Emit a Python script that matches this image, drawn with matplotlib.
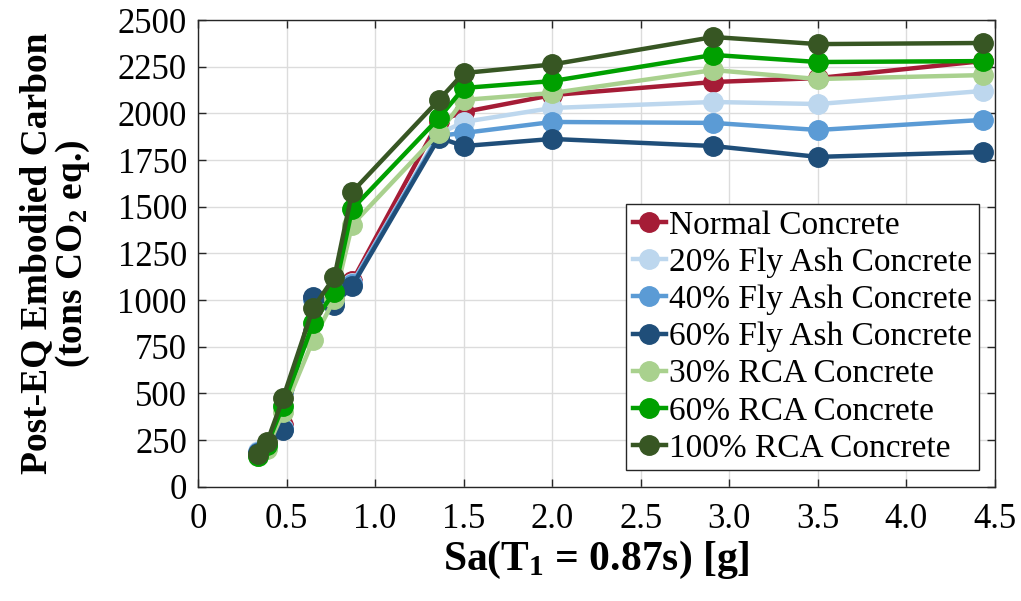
import matplotlib
matplotlib.use("Agg")
import matplotlib.pyplot as plt

plt.rcParams["font.family"] = ["Liberation Serif", "DejaVu Serif"]
plt.rcParams["mathtext.fontset"] = "custom"
plt.rcParams["mathtext.rm"] = "Liberation Serif"
plt.rcParams["mathtext.bf"] = "Liberation Serif:bold"
plt.rcParams["mathtext.it"] = "Liberation Serif:italic"

# Spectral acceleration levels (g)
sa = [0.34, 0.39, 0.48, 0.65, 0.77, 0.87, 1.36, 1.50, 2.0, 2.91, 3.5, 4.43]

# Post-earthquake embodied carbon (tons CO2 eq.) per concrete mix
normal = [180, 230, 330, 1012, 1000, 1100, 1960, 2007, 2098, 2168, 2189, 2280]
fly_ash_20 = [190, 220, 315, 1000, 980, 1090, 1890, 1954, 2029, 2061, 2050, 2120]
fly_ash_40 = [185, 215, 310, 1005, 985, 1085, 1880, 1895, 1954, 1949, 1911, 1965]
fly_ash_60 = [180, 212, 305, 1015, 975, 1075, 1870, 1825, 1863, 1825, 1767, 1793]
rca_30 = [165, 205, 400, 787, 1005, 1403, 1895, 2072, 2109, 2232, 2184, 2205]
rca_60 = [165, 225, 435, 878, 1045, 1488, 1975, 2136, 2173, 2313, 2275, 2280]
rca_100 = [175, 240, 476, 958, 1124, 1579, 2072, 2216, 2262, 2409, 2371, 2377]

labels = ["Normal Concrete", "20% Fly Ash Concrete", "40% Fly Ash Concrete",
          "60% Fly Ash Concrete", "30% RCA Concrete", "60% RCA Concrete",
          "100% RCA Concrete"]
series = [normal, fly_ash_20, fly_ash_40, fly_ash_60, rca_30, rca_60, rca_100]
colors = ["#A51C36", "#BDD7EE", "#5B9BD5", "#1F4E79", "#A9D18E", "#00A000", "#375623"]

xticks = [0, 0.5, 1.0, 1.5, 2.0, 2.5, 3.0, 3.5, 4.0, 4.5]
xticklabels = ["0", "0.5", "1.0", "1.5", "2.0", "2.5", "3.0", "3.5", "4.0", "4.5"]
yticks = [0, 250, 500, 750, 1000, 1250, 1500, 1750, 2000, 2250, 2500]

fig = plt.figure(figsize=(10.21, 6.01), dpi=100)
ax = fig.add_axes([0.194, 0.190, 0.7805, 0.7767])

for vals, lab, col in zip(series, labels, colors):
    ax.plot(sa, vals, "-o", color=col, lw=3.2, ms=14, label=lab)

ax.set_xlim(0, 4.5)
ax.set_ylim(0, 2500)
ax.set_xticks(xticks)
ax.set_xticklabels(xticklabels)
ax.set_yticks(yticks)
ax.grid(True, color="#DCDCDC", lw=1.0)
ax.set_axisbelow(True)
ax.tick_params(direction="in", top=True, right=True, length=6, width=1,
               labelsize=25, colors="#262626", labelcolor="black")
ax.tick_params(axis="x", pad=12)
ax.tick_params(axis="y", pad=8)
for s in ax.spines.values():
    s.set_color("#262626")
    s.set_linewidth(1.0)

ax.set_xlabel(r"Sa(T$_{\mathbf{1}}$ = 0.87s) [g]", fontsize=30, fontweight="bold",
              labelpad=2)
ax.set_ylabel("Post-EQ Embodied Carbon\n" + r"(tons CO$_{\mathbf{2}}$ eq.)",
              fontsize=27, fontweight="bold", linespacing=1.0, labelpad=18)

leg = ax.legend(loc="lower right", bbox_to_anchor=(0.98, 0.035), fontsize=24,
                frameon=True, fancybox=False, edgecolor="#262626",
                handlelength=1.0, handletextpad=0.1, borderpad=0.2,
                labelspacing=0.2, borderaxespad=0.0)
leg.get_frame().set_linewidth(1.0)
leg.get_frame().set_alpha(1.0)

fig.savefig("out.png", dpi=100)
